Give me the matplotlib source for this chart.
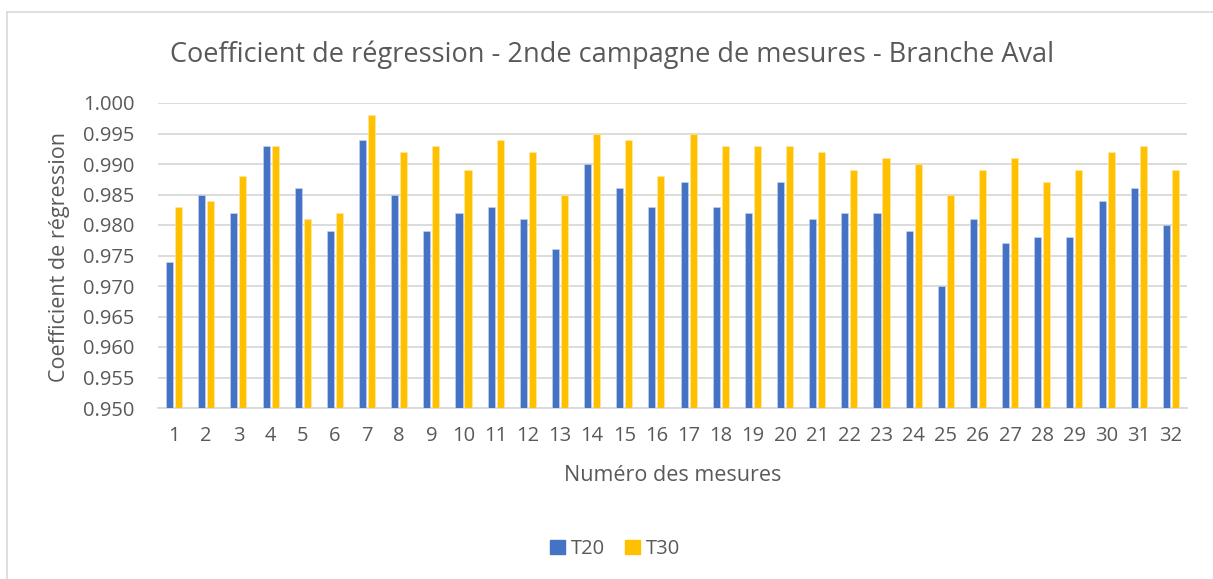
import numpy as np
import matplotlib
matplotlib.use("Agg")
import matplotlib.pyplot as plt
from matplotlib.lines import Line2D
from matplotlib.patches import Patch

plt.rcParams['font.family'] = ['Open Sans', 'DejaVu Sans']

# Regression coefficients per measurement, 2nd campaign, downstream branch
mesures = [str(i) for i in range(1, 33)]
t20 = [0.974, 0.985, 0.982, 0.993, 0.986, 0.979, 0.994, 0.985, 0.979, 0.982,
       0.983, 0.981, 0.976, 0.990, 0.986, 0.983, 0.987, 0.983, 0.982, 0.987,
       0.981, 0.982, 0.982, 0.979, 0.970, 0.981, 0.977, 0.978, 0.978, 0.984,
       0.986, 0.980]
t30 = [0.983, 0.984, 0.988, 0.993, 0.981, 0.982, 0.998, 0.992, 0.993, 0.989,
       0.994, 0.992, 0.985, 0.995, 0.994, 0.988, 0.995, 0.993, 0.993, 0.993,
       0.992, 0.989, 0.991, 0.990, 0.985, 0.989, 0.991, 0.987, 0.989, 0.992,
       0.993, 0.989]
yticks = np.arange(0.950, 1.0001, 0.005)

blue = '#4472C4'
gold = '#FFC000'
grey_txt = '#595959'
grid_col = '#D9D9D9'

W, H = 1213, 579
fig = plt.figure(figsize=(W / 100, H / 100), dpi=100)
ax = fig.add_axes([158 / W, 1 - 408 / H, (1187 - 158) / W, (408 - 103) / H])

x = np.arange(len(mesures))
bw = 0.22
off = 0.14
ax.bar(x - off, t20, bw, bottom=0, color=blue, edgecolor='#C9D6EE', linewidth=0.4, zorder=3)
ax.bar(x + off, t30, bw, bottom=0, color=gold, edgecolor='#FFE9A8', linewidth=0.4, zorder=3)

ax.set_xlim(-0.5, len(mesures) - 0.5)
ax.set_ylim(0.950, 1.000)
ax.set_yticks(yticks)
ax.set_yticklabels([f'{v:.3f}' for v in yticks])
ax.set_xticks(x)
ax.set_xticklabels(mesures)
ax.grid(axis='y', color=grid_col, linewidth=1.3, zorder=0)
for s in ['top', 'right', 'left']:
    ax.spines[s].set_visible(False)
ax.spines['bottom'].set_color(grid_col)
ax.spines['bottom'].set_linewidth(1.3)
ax.tick_params(axis='both', length=0, labelsize=14.5, labelcolor=grey_txt)
ax.tick_params(axis='y', pad=17)
ax.tick_params(axis='x', pad=13)

ax.set_xlabel('Numéro des mesures', fontsize=15.5, color=grey_txt, labelpad=14)
fig.text(60 / W, 1 - 257 / H, 'Coefficient de régression', rotation=90,
         ha='center', va='center', fontsize=15.5, color=grey_txt)

fig.text(612 / W, 1 - 55 / H, 'Coefficient de régression - 2nde campagne de mesures - Branche Aval',
         ha='center', va='center', fontsize=19.5, color=grey_txt)

handles = [Patch(color=blue, label='T20'), Patch(color=gold, label='T30')]
fig.legend(handles=handles, loc='center', bbox_to_anchor=(615 / W, 1 - 549 / H),
           ncol=2, frameon=False, fontsize=14.5, labelcolor=grey_txt,
           handlelength=0.75, handleheight=0.75, handletextpad=0.3, columnspacing=1.0)

# chart frame (top and left edges)
fig.add_artist(Line2D([6.5 / W, 1], [1 - 11.5 / H, 1 - 11.5 / H], color=grid_col, lw=1.2))
fig.add_artist(Line2D([6.5 / W, 6.5 / W], [0, 1 - 11.5 / H], color=grid_col, lw=1.2))

fig.savefig('out.png', dpi=100)
